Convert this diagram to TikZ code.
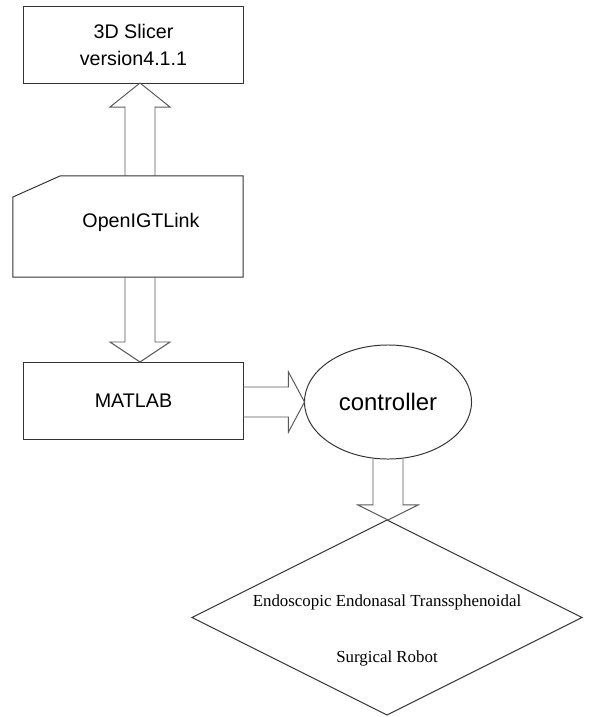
\documentclass[tikz,border=0pt]{standalone}
\usepackage{fontspec}
\setmainfont{Liberation Serif}
\setsansfont{Liberation Sans}
\usetikzlibrary{shapes.geometric,calc}

% open block arrows: tail, tip, signed head length
\newcommand{\vblock}[3]{%
  \draw[blockline] ($(#1)+(-15,0)$) -- ($(#2)+(-15,#3)$) -- ($(#2)+(-30,#3)$) -- (#2)
    -- ($(#2)+(30,#3)$) -- ($(#2)+(15,#3)$) -- ($(#1)+(15,0)$);}
\newcommand{\hblock}[3]{%
  \draw[blockline] ($(#1)+(0,-15)$) -- ($(#2)+(#3,-15)$) -- ($(#2)+(#3,-30)$) -- (#2)
    -- ($(#2)+(#3,30)$) -- ($(#2)+(#3,15)$) -- ($(#1)+(0,15)$);}

\begin{document}
\begin{tikzpicture}[x=0.025cm,y=-0.025cm,
  boxline/.style={draw=black!80,line width=0.7pt,inner sep=0,outer sep=0},
  blockline/.style={draw=black!65,line width=0.7pt,line join=miter},
  sanslabel/.style={font=\sffamily\fontsize{14}{19}\selectfont}]

\useasboundingbox (0,0) rectangle (589,717);

\node[boxline,sanslabel,align=center,minimum width=5.475cm,minimum height=1.9cm] (slicer) at (133.5,45) {3D Slicer\\version4.1.1};

\node[inner sep=0,outer sep=0,minimum width=5.75cm,minimum height=2.525cm] (igt) at (128,226.5) {};
\draw[boxline] ($(igt.north west)+(0,21)$) -- ($(igt.north west)+(47,0)$) -- (igt.north east)
  -- (igt.south east) -- (igt.south west) -- cycle;
\node[sanslabel] (igtlabel) at (141,222) {OpenIGTLink};

\node[boxline,sanslabel,minimum width=5.475cm,minimum height=1.925cm] (matlab) at (133.5,400.5) {MATLAB};

\node[ellipse,boxline,font=\sffamily\fontsize{17}{20}\selectfont,minimum width=4.175cm,minimum height=2.85cm] (ctrl) at (388,402) {controller};

\node[diamond,boxline,minimum width=9.75cm,minimum height=4.875cm] (robot) at (387,617.5) {};
\node[font=\fontsize{12}{14.4}\selectfont,align=center] (robotlabel) at (387,630.5) {Endoscopic Endonasal Transsphenoidal\\[25pt]Surgical Robot};

% arrows
\coordinate (upTip) at ($(slicer.south)+(6.5,0)$);
\coordinate (upTail) at (upTip |- igt.north);
\vblock{upTail}{upTip}{24}

\coordinate (downTail) at (upTip |- igt.south);
\coordinate (downTip) at (upTip |- matlab.north);
\vblock{downTail}{downTip}{-20}

\coordinate (rightTail) at (ctrl.west -| matlab.east);
\hblock{rightTail}{ctrl.west}{-16}

\coordinate (robotTip) at (ctrl.south |- robot.north);
\vblock{ctrl.south}{robotTip}{-15}

\end{tikzpicture}
\end{document}
